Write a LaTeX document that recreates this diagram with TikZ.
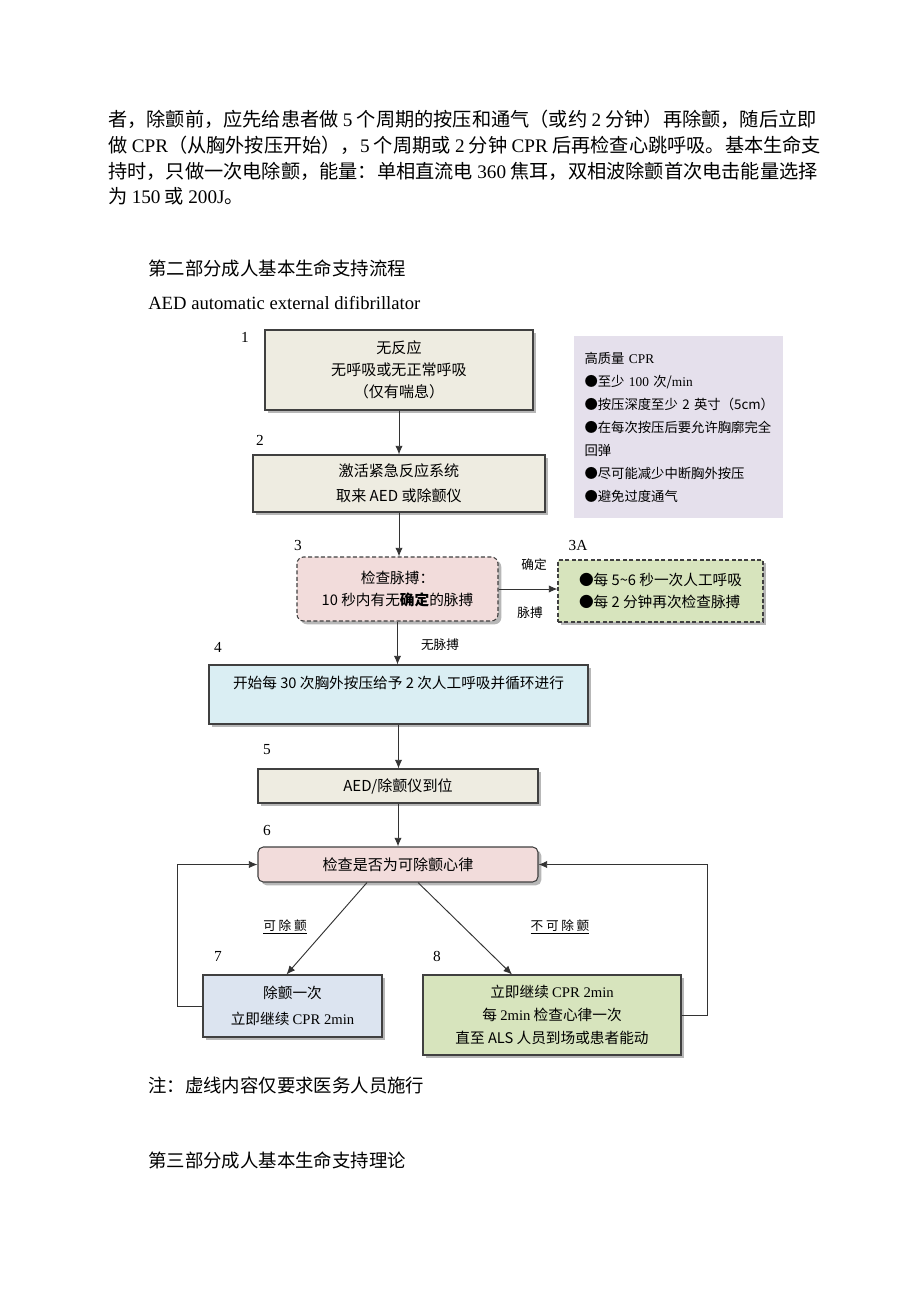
\documentclass[tikz,border=0pt]{standalone}
\usepackage{fontspec}
\setmainfont{Noto Sans CJK SC}
\newfontfamily\lat{Liberation Serif}
\usetikzlibrary{arrows.meta,shadows,calc}

\definecolor{beige}{HTML}{EEECE1}
\definecolor{lilac}{HTML}{E5E0EC}
\definecolor{rose}{HTML}{F2DCDB}
\definecolor{leaf}{HTML}{D7E4BD}
\definecolor{sky}{HTML}{DAEEF3}
\definecolor{steel}{HTML}{DCE4F0}

\tikzset{
  stepbox/.style={draw=black!75, line width=0.8pt, align=center, inner sep=0pt,
    drop shadow={shadow xshift=2.5pt, shadow yshift=-2.5pt, fill=black!40, opacity=0.7},
    font=\fontsize{11.3}{16.5}\selectfont},
  checkbox/.style={stepbox, rounded corners=4pt},
  medbox/.style={stepbox, dash pattern=on 3pt off 1.8pt},
  num/.style={font=\lat\fontsize{11.5}{12}\selectfont, inner sep=0pt},
  tag/.style={font=\fontsize{9.5}{11}\selectfont, inner sep=0pt},
  flow/.style={-{Latex[length=6.5pt,width=5.5pt]}, line width=0.7pt, draw=black!80},
  para/.style={anchor=west, inner sep=0pt, font=\fontsize{14.4}{18}\selectfont},
}

\begin{document}
\begin{tikzpicture}[x=0.75pt,y=-0.75pt]
  \fill[white] (0,0) rectangle (920,1302);
  \useasboundingbox (0,0) rectangle (920,1302);
  % running text above the chart
  \node[para] (p1) at (108,119) {者，除颤前，应先给患者做 {\lat 5} 个周期的按压和通气（或约 {\lat 2} 分钟）再除颤，随后立即};
  \node[para] (p2) at (108,145) {做 {\lat CPR}（从胸外按压开始），{\lat 5} 个周期或 {\lat 2} 分钟 {\lat CPR} 后再检查心跳呼吸。基本生命支};
  \node[para] (p3) at (108,171) {持时，只做一次电除颤，能量：单相直流电 {\lat 360} 焦耳，双相波除颤首次电击能量选择};
  \node[para] (p4) at (108,196) {为 {\lat 150} 或 {\lat 200J}。};
  \node[para, font=\fontsize{13.8}{16}\selectfont] (h2) at (148,268) {第二部分成人基本生命支持流程};
  \node[para, font=\lat\fontsize{14}{16}\selectfont] (aed) at (148,303) {AED automatic external difibrillator};

  % steps
  \node[stepbox, fill=beige, minimum width=201pt, minimum height=60pt] (b1) at (399,370) {无反应\\无呼吸或无正常呼吸\\（仅有喘息）};
  \node[stepbox, fill=beige, minimum width=219pt, minimum height=42.75pt, font=\fontsize{11.3}{18.75}\selectfont] (b2) at (399,483.5) {激活紧急反应系统\\取来 AED 或除颤仪};
  \node[fill=lilac, minimum width=156.75pt, minimum height=136.5pt, text width=141pt, align=left, inner sep=0pt, font=\fontsize{10}{17.25}\selectfont] (cpr) at (678.5,427)
    {高质量~{\lat CPR}\\●至少~{\lat 100}~次/{\lat min}\\●按压深度至少~2~英寸（5cm）\\●在每次按压后要允许胸廓完全\\回弹\\●尽可能减少中断胸外按压\\●避免过度通气};
  \node[medbox, rounded corners=5pt, fill=rose, minimum width=150.75pt, minimum height=48pt, font=\fontsize{11}{16.5}\selectfont] (b3) at (397.5,589) {检查脉搏：\\10 秒内有无{\bfseries 确定}的脉搏};
  \node[medbox, fill=leaf, minimum width=153.75pt, minimum height=46.5pt, align=left, font=\fontsize{11}{16.5}\selectfont] (b3a) at (660.5,591) {●每 5\textasciitilde 6 秒一次人工呼吸\\●每 2 分钟再次检查脉搏};
  \node[stepbox, fill=sky, minimum width=284.25pt, minimum height=44.25pt, font=\fontsize{11}{13.5}\selectfont] (b4) at (398.5,694.5) {开始每 30 次胸外按压给予 2 次人工呼吸并循环进行\\[5pt]\mbox{}};
  \node[stepbox, fill=beige, minimum width=210pt, minimum height=25.5pt] (b5) at (398,786) {AED/除颤仪到位};
  \node[checkbox, fill=rose, minimum width=210pt, minimum height=26.25pt] (b6) at (398,864.5) {检查是否为可除颤心律};
  \node[stepbox, fill=steel, minimum width=134.25pt, minimum height=46.5pt, font=\fontsize{11}{19.5}\selectfont] (b7) at (292.5,1006) {除颤一次\\立即继续 {\lat CPR 2min}};
  \node[stepbox, fill=leaf, minimum width=193.5pt, minimum height=60pt, font=\fontsize{11}{17.25}\selectfont] (b8) at (552,1015) {立即继续 {\lat CPR 2min}\\每 {\lat 2min} 检查心律一次\\直至 ALS 人员到场或患者能动};

  % step numbers
  \node[num] (n1) at (245,337) {1};
  \node[num] (n2) at (260,440) {2};
  \node[num] (n3) at (298,545) {3};
  \node[num] (n3a) at (578,545) {3A};
  \node[num] (n4) at (218,647) {4};
  \node[num] (n5) at (267,750) {5};
  \node[num] (n6) at (267,830) {6};
  \node[num] (n7) at (218,956) {7};
  \node[num] (n8) at (437,956) {8};

  % branch labels
  \node[tag] (qd) at (534,565) {确定};
  \node[tag] (mb) at (530,613) {脉搏};
  \node[tag] (wmb) at (440,645) {无脉搏};
  \node[tag] (kc) at (285,927) {\underline{可\hspace{2pt}除\hspace{2pt}颤}};
  \node[tag] (bkc) at (560,927) {\underline{不\hspace{2pt}可\hspace{2pt}除\hspace{2pt}颤}};

  % arrows
  \draw[flow] (b1) -- (b2);
  \draw[flow] (b2) -- (b2 |- b3.north);
  \draw[flow] (b3.east) -- (b3.east -| b3a.west);
  \draw[flow] (b3) -- (b3 |- b4.north);
  \draw[flow] (b4) -- (b4 |- b5.north);
  \draw[flow] (b5) -- (b6);
  \draw[flow] ($(b6.south)+(-31,0)$) -- ($(b7.north)+(-6,0)$);
  \draw[flow] ($(b6.south)+(20,0)$) -- ($(b8.north)+(-40,0)$);
  \draw[flow] (b7.west) -- ++(-25,0) |- (b6.west);
  \draw[flow] (b8.east) -- ++(26,0) |- (b6.east);

  % text below the chart
  \node[para, font=\fontsize{13.8}{16}\selectfont] (note) at (148,1085) {注：虚线内容仅要求医务人员施行};
  \node[para, font=\fontsize{13.8}{16}\selectfont] (h3) at (148,1160) {第三部分成人基本生命支持理论};
\end{tikzpicture}
\end{document}
